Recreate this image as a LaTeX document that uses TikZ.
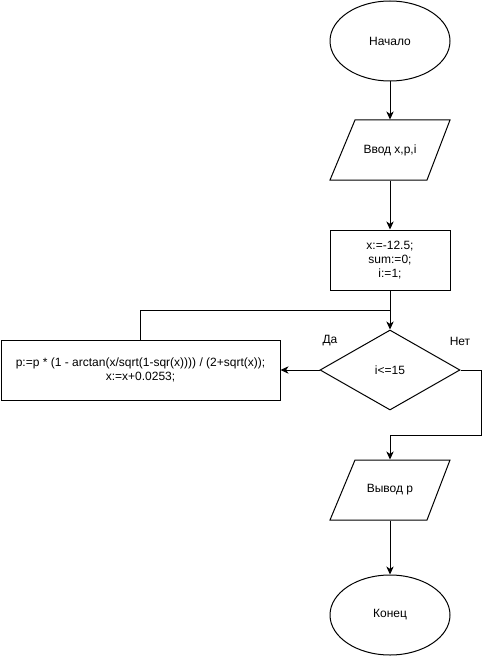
\documentclass[tikz,border=0pt]{standalone}
\usepackage{fontspec}
\setmainfont{Liberation Sans}
\usetikzlibrary{arrows.meta,shapes.geometric}
\begin{document}
\begin{tikzpicture}[x=0.75pt,y=-0.75pt,line width=0.75pt,
  every node/.style={font=\fontsize{9}{10.5}\selectfont,align=center,inner sep=0pt},
  box/.style={draw,rectangle,minimum height=45pt},
  term/.style={draw,ellipse,minimum width=90pt,minimum height=60pt},
  io/.style={rectangle,minimum width=90pt,minimum height=45pt},
  dec/.style={draw,diamond,minimum width=105pt,minimum height=60pt},
  arr/.style={-{Stealth[length=6pt,width=5.5pt,inset=1.8pt]}}]
\useasboundingbox (0,0) rectangle (489,656);
\node[term] (start) at (390,41) {Начало};
\node[io] (in) at (390,150) {Ввод x,p,i};
\draw (355,120) -- (450,120) -- (427,180) -- (330,180) -- cycle;
\node[box,minimum width=90pt] (init) at (390,260) {x:=-12.5;\\sum:=0;\\i:=1;};
\node[dec] (cond) at (390,370) {i<=15};
\node[box,minimum width=209.25pt] (body) at (140.5,370) {p:=p * (1 - arctan(x/sqrt(1-sqr(x)))) / (2+sqrt(x));\\x:=x+0.0253;};
\node[io] (out) at (390,490) {Вывод p};
\draw (355,460) -- (450,460) -- (427,520) -- (330,520) -- cycle;
\node[term] (end) at (390,615) {Конец};
\node (yes) at (330,341) {Да};
\node (no) at (460,341) {Нет};
\coordinate (join) at (390,310);
\coordinate (turn) at (481,435);
\draw[arr] (start) -- (in);
\draw[arr] (in) -- (init);
\draw[arr] (init) -- (cond);
\draw[arr] (cond.west) -- (body.east);
\draw (body.north) |- (join);
\draw[arr] (cond.east) -| (turn) -| (out.north);
\draw[arr] (out) -- (end);
\end{tikzpicture}
\end{document}
